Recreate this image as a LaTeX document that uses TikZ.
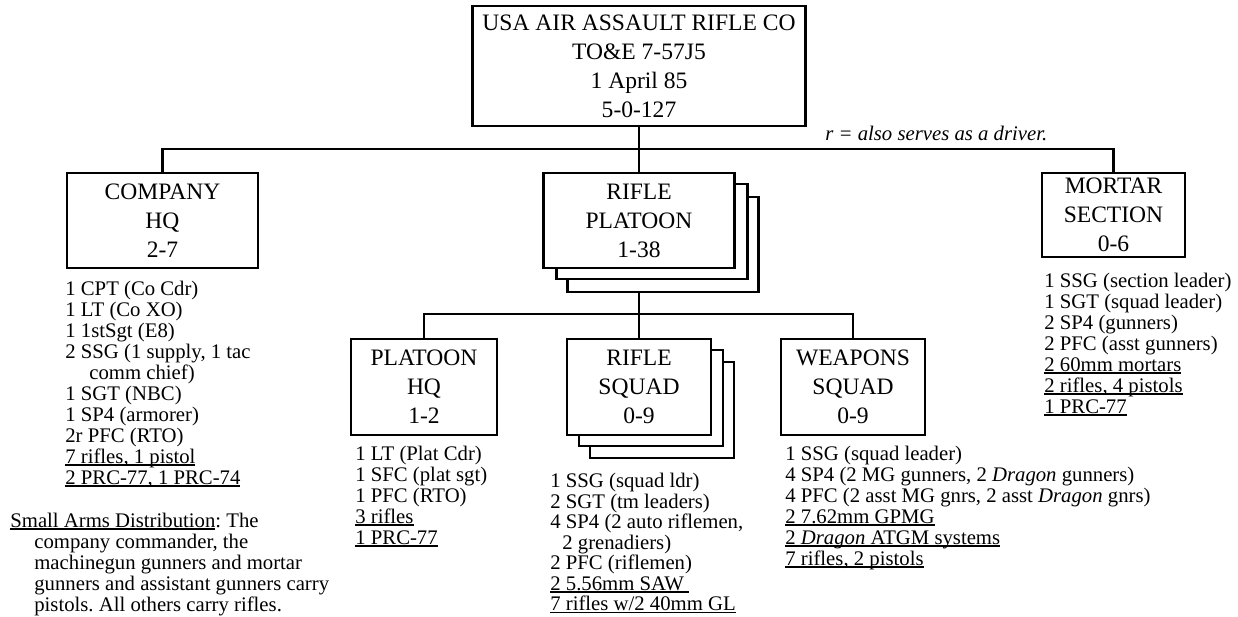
\documentclass[tikz,border=0pt]{standalone}
\usepackage{fontspec}
\setmainfont{Liberation Serif}
\newcommand{\undl}[1]{\setbox0\hbox{#1}\rlap{\rule[-1.4pt]{\wd0}{0.7pt}}\box0}
\frenchspacing
\usetikzlibrary{positioning,calc}

\begin{document}
\begin{tikzpicture}[x=0.02cm,y=-0.02cm,
  unit/.style={draw,line width=1.2pt,fill=white,align=center,inner sep=0pt,
    font=\fontsize{13.4}{16.5}\selectfont},
  widebox/.style={unit,minimum width=3.82cm,minimum height=1.9cm},
  narrowbox/.style={unit,minimum width=2.88cm,minimum height=1.92cm},
  roster/.style={anchor=north west,align=left,inner sep=0pt,
    font=\fontsize{11.8}{11.95}\selectfont},
  link/.style={line width=1.6pt}]
\useasboundingbox (0,0) rectangle (1238,617);

\node[unit,minimum width=6.66cm,minimum height=2.4cm] (top) at (639,66)
  {USA AIR ASSAULT RIFLE CO\\ TO\&E 7-57J5\\ 1 April 85\\ 5-0-127};

\node[widebox] (cohq) at (162.5,220.5) {COMPANY\\ HQ\\ 2-7};

\node[widebox] (plt3) at (663,244.5) {};
\node[widebox] (plt2) at (652,231.5) {};
\node[widebox] (plt) at (639,220.5) {RIFLE\\ PLATOON\\ 1-38};

\node[unit,minimum width=2.86cm,minimum height=1.68cm] (mort) at (1113.5,215)
  {MORTAR\\ SECTION\\ 0-6};

\node[narrowbox,minimum width=2.92cm] (pthq) at (424,387) {PLATOON\\ HQ\\ 1-2};

\node[narrowbox] (sqd3) at (662,410) {};
\node[narrowbox] (sqd2) at (651,398) {};
\node[narrowbox] (sqd) at (639,387) {RIFLE\\ SQUAD\\ 0-9};

\node[narrowbox] (wpn) at (853,387) {WEAPONS\\ SQUAD\\ 0-9};

\node[roster,anchor=west] (rnote) at (825,133) {\textit{r = also serves as a driver.}};

\draw[link] (top) -- (plt);
\draw[link] (cohq.north) -- ++(0,-23) -| (mort.north);
\draw[link] (plt.south |- plt3.south) -- (sqd.north);
\draw[link] (pthq.north) -- ++(0,-24) -| (wpn.north);

\node[roster] (colist) at (65,280.5)
  {1 CPT (Co Cdr)\\ 1 LT (Co XO)\\ 1 1stSgt (E8)\\ 2 SSG (1 supply, 1 tac\\
   \hspace*{0.48cm}comm chief)\\ 1 SGT (NBC)\\ 1 SP4 (armorer)\\ 2r PFC (RTO)\\
   \undl{7 rifles, 1 pistol}\\ \undl{2 PRC-77, 1 PRC-74}};

\node[roster] (arms) at (10,512.5)
  {\undl{Small Arms Distribution}: The\\
   \hspace*{0.48cm}company commander, the\\
   \hspace*{0.48cm}machinegun gunners and mortar\\
   \hspace*{0.48cm}gunners and assistant gunners carry\\
   \hspace*{0.48cm}pistols. All others carry rifles.};

\node[roster] (pthqlist) at (355,445.5)
  {1 LT (Plat Cdr)\\ 1 SFC (plat sgt)\\ 1 PFC (RTO)\\
   \undl{3 rifles}\\ \undl{1 PRC-77}};

\node[roster,font=\fontsize{11.8}{11.66}\selectfont] (sqdlist) at (550,473)
  {1 SSG (squad ldr)\\ 2 SGT (tm leaders)\\ 4 SP4 (2 auto riflemen,\\
   \hspace*{0.24cm}2 grenadiers)\\ 2 PFC (riflemen)\\
   \undl{2 5.56mm SAW\ }\\ \undl{7 rifles w/2 40mm GL}};

\node[roster] (wpnlist) at (785,445.5)
  {1 SSG (squad leader)\\
   4 SP4 (2 MG gunners, 2 \textit{Dragon} gunners)\\
   4 PFC (2 asst MG gnrs, 2 asst \textit{Dragon} gnrs)\\
   \undl{2 7.62mm GPMG}\\ \undl{2 \textit{Dragon} ATGM systems}\\
   \undl{7 rifles, 2 pistols}};

\node[roster] (mortlist) at (1044,272.5)
  {1 SSG (section leader)\\ 1 SGT (squad leader)\\ 2 SP4 (gunners)\\
   2 PFC (asst gunners)\\ \undl{2 60mm mortars}\\ \undl{2 rifles, 4 pistols}\\
   \undl{1 PRC-77}};
\end{tikzpicture}
\end{document}
